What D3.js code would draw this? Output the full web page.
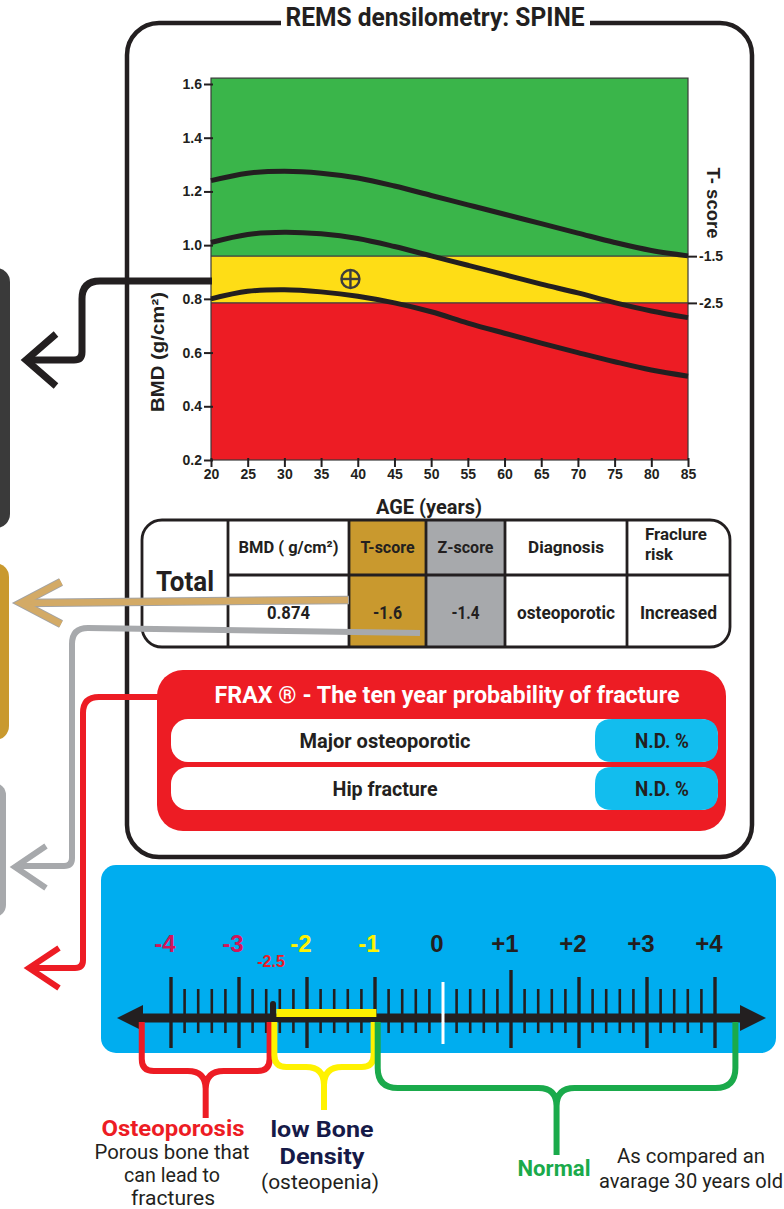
<!DOCTYPE html>
<html>
<head>
<meta charset="utf-8">
<script src="https://cdn.jsdelivr.net/npm/d3@7"></script>
<style>
  body { margin: 0; background: #fff; }
  svg { display: block; }
</style>
</head>
<body>
<svg id="chart" width="784" height="1209"></svg>
<script>
// ---- data ----
var ages = [20, 25, 30, 35, 40, 45, 50, 55, 60, 65, 70, 75, 80, 85];
var upperCurve  = [1.24, 1.268, 1.275, 1.268, 1.25, 1.22, 1.185, 1.15, 1.115, 1.08, 1.045, 1.01, 0.98, 0.96];
var middleCurve = [1.01, 1.04, 1.048, 1.042, 1.025, 0.995, 0.96, 0.925, 0.89, 0.855, 0.822, 0.786, 0.755, 0.73];
var lowerCurve  = [0.80, 0.828, 0.834, 0.826, 0.81, 0.785, 0.752, 0.71, 0.672, 0.635, 0.60, 0.566, 0.535, 0.512];
var bmdTicks = [0.2, 0.4, 0.6, 0.8, 1.0, 1.2, 1.4, 1.6];
var bmdTop = 1.622;
var tScoreLevels = ['-1.5', '-2.5'];
var tScoreBmd = [0.959, 0.785];
var patientAge = 39;
var patientBmd = 0.874;

var tableHeaders = ['BMD ( g/cm\u00b2)', 'T-score', 'Z-score', 'Diagnosis', 'Fraclure\nrisk'];
var tableValues = ['0.874', '-1.6', '-1.4', 'osteoporotic', 'Increased'];
var fraxRows = ['Major osteoporotic', 'Hip fracture'];
var fraxValues = ['N.D. %', 'N.D. %'];

var scoreTicks = [-4, -3, -2, -1, 0, 1, 2, 3, 4];
var scoreLabels = ['-4', '-3', '-2', '-1', '0', '+1', '+2', '+3', '+4'];
var rangeNames = ['Osteoporosis', 'low Bone Density', 'Normal'];
var rangeBounds = [[-4.43, -2.55], [-2.48, -1.02], [-0.96, 4.3]];

// ---- styles ----
var NARROW = "Roboto,'Liberation Sans',sans-serif";
var SANS = "'Liberation Sans',Arial,sans-serif";
var INK = '#231f20';
var RED = '#ed1c24', GREEN = '#3ab54a', YELLOW = '#fedd16';
var GOLD = '#c9992e', GREY = '#a7a9ac', CYAN = '#12bdee';

var svg = d3.select('#chart');

// squeeze a text to the width it has in the reference (condensed face)
function fit(sel, w) {
    if (w) sel.attr('textLength', w).attr('lengthAdjust', 'spacingAndGlyphs');
    return sel;
}
function narrowText(parent, txt, cx, cy, size, weight, color, w) {
    var s = parent.append('text').attr('x', cx).attr('y', cy).attr('text-anchor', 'middle')
        .style('font-family', NARROW).style('font-weight', weight).style('font-size', size + 'px')
        .attr('fill', color).text(txt);
    return fit(s, w);
}

// ---- side tabs on the left ----
svg.append('rect').attr('x', -20).attr('y', 268).attr('width', 30).attr('height', 260).attr('rx', 14).attr('fill', '#3a3a3a');
svg.append('rect').attr('x', -20).attr('y', 563).attr('width', 29).attr('height', 177).attr('rx', 14).attr('fill', GOLD);
svg.append('rect').attr('x', -20).attr('y', 783).attr('width', 26).attr('height', 134).attr('rx', 12).attr('fill', GREY);

// ---- main frame ----
svg.append('rect').attr('x', 127).attr('y', 23).attr('width', 625).attr('height', 834).attr('rx', 32)
    .attr('fill', 'none').attr('stroke', INK).attr('stroke-width', 4.5);
svg.append('rect').attr('x', 281).attr('y', 10).attr('width', 309).attr('height', 22).attr('fill', '#fff');
narrowText(svg, 'REMS densilometry: SPINE', 435, 26, 25, 'bold', INK, 299);

// ---- BMD chart ----
var x = d3.scaleLinear().domain([20, 85]).range([211, 688]);
var y = d3.scaleLinear().domain([0.2, 1.6]).range([460, 84]);

var plot = svg.append('g');
plot.append('rect').attr('x', x(20)).attr('y', y(bmdTop)).attr('width', x(85) - x(20))
    .attr('height', y(tScoreBmd[0]) - y(bmdTop)).attr('fill', GREEN);
plot.append('rect').attr('x', x(20)).attr('y', y(tScoreBmd[0])).attr('width', x(85) - x(20))
    .attr('height', y(tScoreBmd[1]) - y(tScoreBmd[0])).attr('fill', YELLOW);
plot.append('rect').attr('x', x(20)).attr('y', y(tScoreBmd[1])).attr('width', x(85) - x(20))
    .attr('height', y(0.2) - y(tScoreBmd[1])).attr('fill', RED);
plot.selectAll('line.band').data(tScoreBmd).enter().append('line')
    .attr('x1', x(20)).attr('x2', x(85)).attr('y1', function (d) { return y(d); }).attr('y2', function (d) { return y(d); })
    .attr('stroke', '#3a3a3a').attr('stroke-width', 1.2);
plot.append('rect').attr('x', x(20)).attr('y', y(bmdTop)).attr('width', x(85) - x(20))
    .attr('height', y(0.2) - y(bmdTop)).attr('fill', 'none').attr('stroke', '#3a3a3a').attr('stroke-width', 1.2);

var curveLine = d3.line()
    .x(function (d, i) { return x(ages[i]); })
    .y(function (d) { return y(d); })
    .curve(d3.curveCatmullRom);
plot.selectAll('path.curve').data([upperCurve, middleCurve, lowerCurve]).enter().append('path')
    .attr('d', curveLine).attr('fill', 'none').attr('stroke', INK).attr('stroke-width', 5);

// patient marker
var px = x(patientAge), py = y(patientBmd);
var mark = plot.append('g').attr('stroke', '#3d3d3d').attr('stroke-width', 2.4).attr('fill', 'none');
mark.append('circle').attr('cx', px).attr('cy', py).attr('r', 9);
mark.append('line').attr('x1', px - 9).attr('x2', px + 9).attr('y1', py).attr('y2', py);
mark.append('line').attr('x1', px).attr('x2', px).attr('y1', py - 9).attr('y2', py + 9);

function styleAxis(g) {
    g.select('.domain').remove();
    g.selectAll('line').attr('stroke', INK).attr('stroke-width', 2);
    g.selectAll('text').attr('fill', INK).style('font-family', SANS).style('font-weight', 'bold').style('font-size', '14px');
}
svg.append('g').attr('transform', 'translate(' + (x(20) + 2) + ',0)')
    .call(d3.axisLeft(y).tickValues(bmdTicks).tickSize(9).tickPadding(2).tickFormat(d3.format('.1f')))
    .call(styleAxis);
svg.append('g').attr('transform', 'translate(0,' + (y(0.2) - 2) + ')')
    .call(d3.axisBottom(x).tickValues(ages).tickSize(9).tickPadding(2).tickFormat(d3.format('d')))
    .call(styleAxis);
svg.append('g').attr('transform', 'translate(' + x(85) + ',0)')
    .call(d3.axisRight(y).tickValues(tScoreBmd).tickSize(9).tickPadding(2)
        .tickFormat(function (d, i) { return tScoreLevels[i]; }))
    .call(styleAxis);

svg.append('text').attr('transform', 'translate(164,352) rotate(-90)').attr('text-anchor', 'middle')
    .style('font-family', SANS).style('font-weight', 'bold').style('font-size', '18px').attr('fill', INK)
    .attr('textLength', 120).attr('lengthAdjust', 'spacingAndGlyphs')
    .text('BMD (g/cm\u00b2)');
svg.append('text').attr('transform', 'translate(707,203) rotate(90)').attr('text-anchor', 'middle')
    .style('font-family', SANS).style('font-weight', 'bold').style('font-size', '18px').attr('fill', INK)
    .attr('textLength', 71).attr('lengthAdjust', 'spacingAndGlyphs')
    .text('T- score');
narrowText(svg, 'AGE (years)', 429, 514, 21, 'bold', INK, 106);

// ---- results table ----
var colEdges = [142, 228, 349, 426, 505, 627, 730];
var tTop = 520, tMid = 575, tBot = 647;
var headWidths = [100, 54, 56, 76, null];
var valWidths = [43, 29, 28, 98, 77];
var table = svg.append('g');
table.append('rect').attr('x', colEdges[2]).attr('y', tTop)
    .attr('width', colEdges[3] - colEdges[2]).attr('height', tBot - tTop).attr('fill', GOLD);
table.append('rect').attr('x', colEdges[3]).attr('y', tTop)
    .attr('width', colEdges[4] - colEdges[3]).attr('height', tBot - tTop).attr('fill', GREY);
table.append('rect').attr('x', colEdges[0]).attr('y', tTop).attr('width', colEdges[6] - colEdges[0])
    .attr('height', tBot - tTop).attr('rx', 20).attr('fill', 'none').attr('stroke', INK).attr('stroke-width', 2.8);
table.selectAll('line.col').data(colEdges.slice(1, 6)).enter().append('line')
    .attr('x1', function (d) { return d; }).attr('x2', function (d) { return d; })
    .attr('y1', tTop).attr('y2', tBot).attr('stroke', INK).attr('stroke-width', 2.8);
table.append('line').attr('x1', colEdges[1]).attr('x2', colEdges[6]).attr('y1', tMid).attr('y2', tMid)
    .attr('stroke', INK).attr('stroke-width', 3);
narrowText(table, 'Total', (colEdges[0] + colEdges[1]) / 2, 591, 27, 'bold', INK, 58);

tableHeaders.forEach(function (d, i) {
    var lines = d.split('\n');
    var cx = (colEdges[i + 1] + colEdges[i + 2]) / 2;
    if (lines.length > 1) {
        var lw = [62, 28];
        lines.forEach(function (l, j) {
            var s = table.append('text').attr('x', colEdges[i + 1] + 18).attr('y', 540 + j * 20)
                .style('font-family', NARROW).style('font-weight', 'bold').style('font-size', '17px')
                .attr('fill', INK).text(l);
            fit(s, lw[j]);
        });
    } else {
        narrowText(table, d, cx, 553, 17, 'bold', INK, headWidths[i]);
    }
});
tableValues.forEach(function (d, i) {
    narrowText(table, d, (colEdges[i + 1] + colEdges[i + 2]) / 2, 619, 18, 'bold', INK, valWidths[i]);
});

// ---- FRAX box ----
var frax = svg.append('g');
frax.append('rect').attr('x', 157).attr('y', 670).attr('width', 569).attr('height', 161).attr('rx', 26).attr('fill', RED);
narrowText(frax, 'FRAX \u00ae - The ten year probability of fracture', 447, 703, 23, 'bold', '#fff', 465);
var rowTop = [719, 767];
var rowWidths = [171, 105];
fraxRows.forEach(function (d, i) {
    var t = rowTop[i], l = 595, r = 718, h = 43, c = 17;
    frax.append('rect').attr('x', 171).attr('y', t).attr('width', 547).attr('height', h).attr('rx', c).attr('fill', '#fff');
    frax.append('path').attr('fill', CYAN).attr('d',
        'M' + (l + c) + ',' + t + 'H' + (r - c) + 'Q' + r + ',' + t + ' ' + r + ',' + (t + c) +
        'V' + (t + h - c) + 'Q' + r + ',' + (t + h) + ' ' + (r - c) + ',' + (t + h) +
        'H' + (l + c) + 'Q' + l + ',' + (t + h) + ' ' + l + ',' + (t + h - c) +
        'V' + (t + c) + 'Q' + l + ',' + t + ' ' + (l + c) + ',' + t + 'Z');
    narrowText(frax, d, 385, t + 29, 20, 'bold', INK, rowWidths[i]);
    narrowText(frax, fraxValues[i], 662, t + 29, 20, 'bold', INK, 54);
});

// ---- connector arrows ----
function arrow(path, head, color, width) {
    svg.append('path').attr('d', path).attr('fill', 'none').attr('stroke', color)
        .attr('stroke-width', width).attr('stroke-linejoin', 'round');
    svg.append('path').attr('d', head).attr('fill', 'none').attr('stroke', color)
        .attr('stroke-width', width).attr('stroke-linejoin', 'miter');
}
arrow('M212,281 H100 Q82,281 82,299 V352 Q82,360 74,360 H26', 'M56,334 L26,360 L56,386', INK, 7);
svg.append('path').attr('d', 'M349,600 L22,603').attr('stroke', '#a3a3a3').attr('stroke-width', 8.5);
svg.append('path').attr('d', 'M61,582 L21,603 L61,624').attr('fill', 'none').attr('stroke', '#a3a3a3').attr('stroke-width', 8.5);
arrow('M348,600 L22,603', 'M61,582 L21,603 L61,624', '#d3aa66', 6.5);
arrow('M420,633 L88,628 Q72,628 72,644 V858 Q72,866 64,866 H16', 'M46,846 L15,867 L46,888', GREY, 6);
arrow('M158,697 H99 Q83,697 83,713 V960 Q83,968 75,968 H30', 'M59,948 L29,968 L59,988', RED, 6);

// ---- T-score number line ----
svg.append('rect').attr('x', 101).attr('y', 865).attr('width', 675).attr('height', 188).attr('rx', 15).attr('fill', '#00adef');
var t = d3.scaleLinear().domain([-4, 4]).range([171, 715]);
var axisY = 1018;

function labelColor(v) { return v <= -3 ? '#d4145a' : (v < 0 ? '#fff200' : INK); }

var minor = d3.range(-40, 41, 2).map(function (d) { return d / 10; })
    .filter(function (d) { return Math.abs(d - Math.round(d)) > 1e-6; });
svg.selectAll('line.minor').data(minor).enter().append('line')
    .attr('x1', function (d) { return t(d); }).attr('x2', function (d) { return t(d); })
    .attr('y1', axisY - 29).attr('y2', axisY + 15).attr('stroke', INK).attr('stroke-width', 2.6);
svg.selectAll('line.major').data(scoreTicks).enter().append('line')
    .attr('x1', function (d) { return t(d); }).attr('x2', function (d) { return t(d); })
    .attr('y1', function (d) { return d === 0 ? axisY - 36 : (d === 1 ? axisY - 48 : axisY - 41); })
    .attr('y2', function (d) { return d === 0 ? axisY + 26 : axisY + 30; })
    .attr('stroke', function (d) { return d === 0 ? '#fff' : INK; })
    .attr('stroke-width', function (d) { return d === 0 ? 3 : 3.4; });

svg.append('line').attr('x1', 138).attr('x2', 746).attr('y1', axisY).attr('y2', axisY)
    .attr('stroke', INK).attr('stroke-width', 9);
svg.append('path').attr('d', 'M117,' + axisY + ' L143,' + (axisY - 13) + ' L143,' + (axisY + 13) + 'Z').attr('fill', INK);
svg.append('path').attr('d', 'M766,' + axisY + ' L740,' + (axisY - 13) + ' L740,' + (axisY + 13) + 'Z').attr('fill', INK);
// zero tick shows white across the line
svg.append('line').attr('x1', t(0)).attr('x2', t(0)).attr('y1', axisY - 5).attr('y2', axisY + 5)
    .attr('stroke', '#fff').attr('stroke-width', 3);

// osteopenia span and -2.5 pin
svg.append('rect').attr('x', t(-2.45)).attr('y', axisY - 9).attr('width', t(-0.98) - t(-2.45)).attr('height', 8).attr('fill', '#fff200');
svg.append('rect').attr('x', t(-2.5) - 3).attr('y', axisY - 17).attr('width', 6).attr('height', 28).attr('rx', 3).attr('fill', INK);

svg.selectAll('text.score').data(scoreTicks).enter().append('text')
    .attr('x', function (d) { return t(d) - 6; }).attr('y', 952).attr('text-anchor', 'middle')
    .style('font-family', SANS).style('font-weight', 'bold').style('font-size', '24px')
    .attr('fill', function (d) { return labelColor(d); })
    .text(function (d, i) { return scoreLabels[i]; });
svg.append('text').attr('x', t(-2.5) - 2).attr('y', 967).attr('text-anchor', 'middle')
    .style('font-family', SANS).style('font-weight', 'bold').style('font-size', '16px').attr('fill', RED)
    .text('-2.5');

// ---- range braces ----
var braceColor = [RED, '#fff200', '#1aaa4b'];
var braceBar = [1071, 1067, 1088];
var braceEnd = [1118, 1110, 1155];
var braceR = [12, 12, 20];
function bracePath(d, i) {
    var x0 = t(d[0]), x1 = t(d[1]), xm = (x0 + x1) / 2, yb = braceBar[i], ye = braceEnd[i], r = braceR[i], r2 = 18;
    var top = axisY + 4;
    return 'M' + x0 + ',' + top + ' V' + (yb - r) + ' Q' + x0 + ',' + yb + ' ' + (x0 + r) + ',' + yb +
        ' H' + (xm - r2) + ' Q' + xm + ',' + yb + ' ' + xm + ',' + (yb + r2) + ' V' + ye +
        ' M' + x1 + ',' + top + ' V' + (yb - r) + ' Q' + x1 + ',' + yb + ' ' + (x1 - r) + ',' + yb +
        ' H' + (xm + r2) + ' Q' + xm + ',' + yb + ' ' + xm + ',' + (yb + r2);
}
svg.selectAll('path.brace').data(rangeBounds).enter().append('path')
    .attr('d', bracePath).attr('fill', 'none')
    .attr('stroke', function (d, i) { return braceColor[i]; }).attr('stroke-width', 6);

// ---- captions ----
var lowWords = rangeNames[1].split(' ');
narrowText(svg, rangeNames[0], 173, 1136, 22, 'bold', RED, 143);
narrowText(svg, 'Porous bone that', 172, 1159, 20, 'normal', INK, 155);
narrowText(svg, 'can lead to', 172, 1182, 20, 'normal', INK, 96);
narrowText(svg, 'fractures', 173, 1205, 20, 'normal', INK, 84);
narrowText(svg, lowWords.slice(0, 2).join(' '), 322, 1137, 22, 'bold', '#161a48', 103);
narrowText(svg, lowWords[2], 322, 1164, 22, 'bold', '#161a48', 85);
narrowText(svg, '(osteopenia)', 320, 1189, 20, 'normal', INK, 118);
narrowText(svg, rangeNames[2], 554, 1176, 22, 'bold', '#1aaa4b', 73);
narrowText(svg, 'As compared an', 691, 1163, 20, 'normal', INK, 148);
narrowText(svg, 'avarage 30 years old', 691, 1188, 20, 'normal', INK, 184);
</script>
</body>
</html>
